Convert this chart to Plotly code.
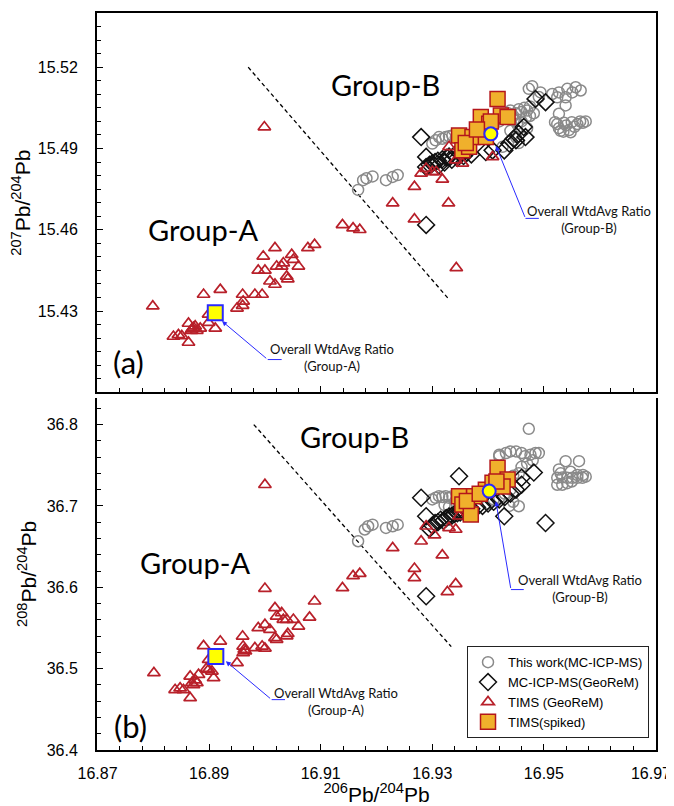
import plotly.graph_objects as go

# ---------------- tick values ----------------
x_ticks = [16.87, 16.89, 16.91, 16.93, 16.95, 16.97]
# last label padded with no-break spaces so it sits inside the page edge (as in the reference)
x_tick_labels = ["16.87", "16.89", "16.91", "16.93", "16.95", "16.97\u00a0\u00a0"]
y_ticks_a = [15.43, 15.46, 15.49, 15.52]
y_ticks_b = [36.4, 36.5, 36.6, 36.7, 36.8]

# ---------------- panel (a): 207Pb/204Pb ----------------
tw_x_a = [16.9167, 16.9176, 16.9182, 16.9193, 16.9217, 16.9229, 16.9238,
          16.9300, 16.9306, 16.9312, 16.9318, 16.9324, 16.9330, 16.9336, 16.9342,
          16.9385, 16.9392, 16.9398, 16.9410, 16.9420, 16.9428, 16.9436, 16.9440,
          16.9445, 16.9450, 16.9455, 16.9460, 16.9465, 16.9470, 16.9475, 16.9446,
          16.9452, 16.9460, 16.9468, 16.9475, 16.9482, 16.9455, 16.9426, 16.9450,
          16.9440, 16.9470,
          16.9473, 16.9479, 16.9491, 16.9494, 16.9515, 16.9524, 16.9527, 16.9539,
          16.9542, 16.9551, 16.9557, 16.9566, 16.9539, 16.9527,
          16.9520, 16.9524, 16.9527, 16.9530, 16.9536, 16.9540, 16.9545, 16.9550,
          16.9555, 16.9560, 16.9565, 16.9570, 16.9575, 16.9548, 16.9535]
tw_y_a = [15.4747, 15.4783, 15.4790, 15.4797, 15.4783, 15.4795, 15.4802,
          15.4918, 15.4930, 15.4942, 15.4936, 15.4942, 15.4945, 15.4948, 15.4940,
          15.4960, 15.4975, 15.4985, 15.4990, 15.5000, 15.5010, 15.5030, 15.5040,
          15.5020, 15.5030, 15.5045, 15.5035, 15.5050, 15.5040, 15.5055, 15.5005,
          15.4990, 15.5000, 15.5015, 15.5020, 15.5030, 15.4920, 15.4906, 15.4942,
          15.4965, 15.4975,
          15.5120, 15.5130, 15.5090, 15.5107, 15.5101, 15.5089, 15.5107, 15.5089,
          15.5120, 15.5107, 15.5126, 15.5114, 15.5059, 15.5028,
          15.4997, 15.4990, 15.4975, 15.4965, 15.4995, 15.4985, 15.4968, 15.4997,
          15.4980, 15.4990, 15.5000, 15.4995, 15.5000, 15.4960, 15.4962]

mc_x_a = [16.9280, 16.9289, 16.9289, 16.9289,
          16.9295, 16.9300, 16.9305, 16.9310, 16.9312, 16.9318, 16.9322, 16.9326,
          16.9330, 16.9335, 16.9340, 16.9345, 16.9350, 16.9356, 16.9362, 16.9370,
          16.9396, 16.9408, 16.9429, 16.9438, 16.9446, 16.9455, 16.9464,
          16.9485, 16.9503, 16.9467, 16.9450]
mc_y_a = [15.4942, 15.4869, 15.4832, 15.4618,
          15.4840, 15.4845, 15.4850, 15.4855, 15.4838, 15.4860, 15.4848, 15.4866,
          15.4870, 15.4858, 15.4876, 15.4865, 15.4880, 15.4872, 15.4885, 15.4878,
          15.4887, 15.4893, 15.4893, 15.4918, 15.4936, 15.4954, 15.4979,
          15.5083, 15.5071, 15.4942, 15.4930]

tims_x_a = [16.8799, 16.8999, 16.8836, 16.8845, 16.8851, 16.8863, 16.8863, 16.8869,
            16.8872, 16.8875, 16.8878, 16.8884, 16.8868, 16.8899, 16.8899, 16.8911,
            16.8890, 16.8920, 16.8950, 16.8960, 16.8961, 16.8960, 16.8982, 16.8995,
            16.8988, 16.9000, 16.8997, 16.9009, 16.9018, 16.9018, 16.9021, 16.9030,
            16.9033, 16.9039, 16.9041, 16.9048, 16.9051, 16.9060, 16.9077, 16.9089,
            16.9139, 16.9158, 16.9170, 16.9229, 16.9268, 16.9268, 16.9280, 16.9289,
            16.9307, 16.9318, 16.9329, 16.9343, 16.9330, 16.9342, 16.9354, 16.9408,
            16.9300]
tims_y_a = [15.4318, 15.4979, 15.4206, 15.4212, 15.4208, 15.4184, 15.4254, 15.4233,
            15.4239, 15.4244, 15.4228, 15.4236, 15.4228, 15.4288, 15.4257, 15.4236,
            15.4361, 15.4379, 15.4310, 15.4320, 15.4336, 15.4361, 15.4361, 15.4361,
            15.4450, 15.4450, 15.4502, 15.4410, 15.4398, 15.4533, 15.4465, 15.4465,
            15.4477, 15.4428, 15.4418, 15.4508, 15.4490, 15.4465, 15.4533, 15.4545,
            15.4618, 15.4606, 15.4600, 15.4698, 15.4759, 15.4639, 15.4808, 15.4826,
            15.4814, 15.4786, 15.4698, 15.4459, 15.4906, 15.4857, 15.4845, 15.4869,
            15.4814]

sp_x_a = [16.9348, 16.9354, 16.9366, 16.9372, 16.9360, 16.9387, 16.9402, 16.9396,
          16.9417, 16.9423, 16.9435, 16.9405, 16.9380]
sp_y_a = [15.4948, 15.4893, 15.4906, 15.4942, 15.4920, 15.5016, 15.4991, 15.4942,
          15.5083, 15.5022, 15.5016, 15.5000, 15.4970]

avgA_a = (16.8911, 15.4294)
avgB_a = (16.9405, 15.4954)
divider_x_a = [16.8970, 16.9330]
divider_y_a = [15.5200, 15.4343]

# ---------------- panel (b): 208Pb/204Pb ----------------
tw_x_b = [16.9167, 16.9179, 16.9185, 16.9193, 16.9217, 16.9229, 16.9238,
          16.9300, 16.9306, 16.9312, 16.9318, 16.9324, 16.9330, 16.9336, 16.9342,
          16.9330, 16.9322,
          16.9420, 16.9473, 16.9420, 16.9432, 16.9440, 16.9450, 16.9460, 16.9466,
          16.9476, 16.9485, 16.9491, 16.9480, 16.9470, 16.9460, 16.9455, 16.9445,
          16.9440, 16.9430, 16.9420, 16.9445, 16.9455, 16.9438, 16.9410, 16.9400,
          16.9527, 16.9539, 16.9563, 16.9524, 16.9533, 16.9542, 16.9551, 16.9560,
          16.9569, 16.9575, 16.9524, 16.9533, 16.9542, 16.9550, 16.9530, 16.9548,
          16.9560, 16.9570]
tw_y_b = [36.6566, 36.6710, 36.6750, 36.6770, 36.6730, 36.6750, 36.6770,
          36.7080, 36.7100, 36.7120, 36.7110, 36.7120, 36.7100, 36.7120, 36.7050,
          36.6990, 36.7010,
          36.7610, 36.7948, 36.7630, 36.7650, 36.7670, 36.7670, 36.7650, 36.7610,
          36.7630, 36.7650, 36.7650, 36.7560, 36.7520, 36.7480, 36.7400, 36.7370,
          36.7200, 36.7150, 36.7100, 36.7050, 36.6996, 36.7000, 36.7080, 36.7030,
          36.7448, 36.7550, 36.7550, 36.7346, 36.7350, 36.7346, 36.7346, 36.7346,
          36.7346, 36.7360, 36.7260, 36.7260, 36.7280, 36.7300, 36.7400, 36.7420,
          36.7380, 36.7380]

mc_x_b = [16.9280, 16.9348, 16.9289, 16.9289, 16.9429, 16.9503, 16.9482, 16.9460,
          16.9295, 16.9300, 16.9305, 16.9310, 16.9315, 16.9320, 16.9325, 16.9330,
          16.9335, 16.9340, 16.9345, 16.9350, 16.9355, 16.9362, 16.9370, 16.9380,
          16.9390, 16.9400, 16.9410, 16.9420, 16.9430, 16.9440, 16.9450, 16.9460]
mc_y_b = [36.7100, 36.7365, 36.6873, 36.5890, 36.6873, 36.6790, 36.7410, 36.7346,
          36.6720, 36.6760, 36.6790, 36.6800, 36.6830, 36.6820, 36.6850, 36.6870,
          36.6880, 36.6900, 36.6910, 36.6920, 36.6935, 36.6950, 36.6965, 36.6985,
          36.7000, 36.7030, 36.7050, 36.7080, 36.7110, 36.7150, 36.7200, 36.7260]

tims_x_b = [16.8801, 16.9000, 16.9000, 16.8890, 16.8920, 16.8839, 16.8848, 16.8854,
            16.8866, 16.8866, 16.8869, 16.8878, 16.8881, 16.8872, 16.8875, 16.8899,
            16.8905, 16.8908, 16.8899, 16.8895, 16.8950, 16.8960, 16.8961, 16.8961,
            16.8963, 16.8965, 16.8982, 16.8995, 16.9000, 16.8988, 16.9000, 16.9009,
            16.9018, 16.9021, 16.9030, 16.9033, 16.9039, 16.9051, 16.9018, 16.9021,
            16.9039, 16.9041, 16.9060, 16.9080, 16.9089, 16.9139, 16.9158, 16.9170,
            16.9229, 16.9268, 16.9268, 16.9280, 16.9289, 16.9304, 16.9318, 16.9327,
            16.9342, 16.9330, 16.9342, 16.9348]
tims_y_b = [36.4947, 36.7260, 36.5984, 36.5280, 36.5336, 36.4740, 36.4760, 36.4740,
            36.4640, 36.4905, 36.4824, 36.4824, 36.4926, 36.4800, 36.4860, 36.4988,
            36.4967, 36.4886, 36.5110, 36.5000, 36.5070, 36.5397, 36.5274, 36.5192,
            36.5234, 36.5215, 36.5255, 36.5274, 36.5250, 36.5500, 36.5540, 36.5480,
            36.5747, 36.5643, 36.5684, 36.5603, 36.5603, 36.5603, 36.5378, 36.5357,
            36.5400, 36.5430, 36.5520, 36.5630, 36.5828, 36.5992, 36.6140, 36.6168,
            36.6484, 36.6230, 36.6115, 36.6566, 36.6750, 36.6640, 36.6394, 36.5943,
            36.6042, 36.6730, 36.6710, 36.6873]

sp_x_b = [16.9417, 16.9435, 16.9348, 16.9354, 16.9369, 16.9375, 16.9396, 16.9408,
          16.9426, 16.9362, 16.9385, 16.9415]
sp_y_b = [36.7468, 36.7325, 36.7120, 36.7017, 36.6894, 36.7120, 36.7200, 36.7284,
          36.7240, 36.7060, 36.7150, 36.7300]

avgA_b = (16.8912, 36.5150)
avgB_b = (16.9402, 36.7182)
divider_x_b = [16.8980, 16.9334]
divider_y_b = [36.8000, 36.5270]

# ---------------- styling ----------------
ARIAL = "Liberation Sans, Arial, sans-serif"
CALIBRI = "Lato, Open Sans, sans-serif"
GREY = "#8a8a8a"
RED = "#b8202a"
BLUE = "#2a2aff"

styles = {
    "tw": dict(name="This work(MC-ICP-MS)", symbol="circle",
               marker=dict(size=11, color="rgba(0,0,0,0)", line=dict(color=GREY, width=1.5))),
    "mc": dict(name="MC-ICP-MS(GeoReM)", symbol="diamond",
               marker=dict(size=13, color="rgba(0,0,0,0)", line=dict(color="#111111", width=1.5))),
    "tims": dict(name="TIMS (GeoReM)", symbol="triangle-up",
                 marker=dict(size=11, color="rgba(0,0,0,0)", line=dict(color=RED, width=1.7))),
    "sp": dict(name="TIMS(spiked)", symbol="square",
               marker=dict(size=15, color="#f0b02c", line=dict(color="#b4161b", width=1.5))),
}

fig = go.Figure()

panels = [
    ("x", "y", tw_x_a, tw_y_a, mc_x_a, mc_y_a, tims_x_a, tims_y_a, sp_x_a, sp_y_a,
     avgA_a, avgB_a, divider_x_a, divider_y_a, False),
    ("x2", "y2", tw_x_b, tw_y_b, mc_x_b, mc_y_b, tims_x_b, tims_y_b, sp_x_b, sp_y_b,
     avgA_b, avgB_b, divider_x_b, divider_y_b, True),
]

for (xa, ya, twx, twy, mcx, mcy, tx, ty, sx, sy, avA, avB, dx, dy, show) in panels:
    fig.add_trace(go.Scatter(x=dx, y=dy, mode="lines", xaxis=xa, yaxis=ya,
                             line=dict(color="black", width=1.3, dash="4px,3px"),
                             showlegend=False, hoverinfo="skip"))
    for key, xs, ys, rank in (("tw", twx, twy, 1), ("mc", mcx, mcy, 2),
                              ("tims", tx, ty, 3), ("sp", sx, sy, 4)):
        st = styles[key]
        m = dict(st["marker"])
        m["symbol"] = st["symbol"]
        fig.add_trace(go.Scatter(x=xs, y=ys, mode="markers", name=st["name"],
                                 xaxis=xa, yaxis=ya, marker=m, showlegend=show,
                                 legendrank=rank))
    fig.add_trace(go.Scatter(x=[avA[0]], y=[avA[1]], mode="markers", xaxis=xa, yaxis=ya,
                             marker=dict(symbol="square", size=15, color="#ffff00",
                                         line=dict(color=BLUE, width=2)),
                             showlegend=False))
    fig.add_trace(go.Scatter(x=[avB[0]], y=[avB[1]], mode="markers", xaxis=xa, yaxis=ya,
                             marker=dict(symbol="circle", size=13, color="#ffff00",
                                         line=dict(color=BLUE, width=2)),
                             showlegend=False))

# ---------------- annotations ----------------
ann = []
shapes = []

def callout(xr, yr, tip, elbow, end_x, text_xy):
    ann.append(dict(xref=xr, yref=yr, axref=xr, ayref=yr, x=tip[0], y=tip[1],
                    ax=elbow[0], ay=elbow[1], text="", showarrow=True,
                    arrowhead=2, arrowsize=1, arrowwidth=1, arrowcolor=BLUE,
                    standoff=0, startstandoff=0))
    shapes.append(dict(type="line", xref=xr, yref=yr, x0=elbow[0], y0=elbow[1],
                       x1=end_x, y1=elbow[1], line=dict(color=BLUE, width=1)))
    ann.append(dict(xref=xr, yref=yr, x=text_xy[0], y=text_xy[1],
                    text="Overall WtdAvg Ratio<br>" + text_xy[2], showarrow=False,
                    align="center", font=dict(family=CALIBRI, size=13, color="#111")))

callout("x", "y", (16.8923, 15.4263), (16.9005, 15.4121), 16.9030, (16.9120, 15.4128, "(Group-A)"))
callout("x", "y", (16.9414, 15.4910), (16.9467, 15.4642), 16.9491, (16.9581, 15.4637, "(Group-B)"))
callout("x2", "y2", (16.8930, 36.5090), (16.9012, 36.4619), 16.9036, (16.9128, 36.4594, "(Group-A)"))
callout("x2", "y2", (16.9414, 36.7058), (16.9441, 36.5972), 16.9464, (16.9564, 36.5984, "(Group-B)"))

def label(xr, yr, x, y, text, size):
    ann.append(dict(xref=xr, yref=yr, x=x, y=y, text=text, showarrow=False,
                    font=dict(family=CALIBRI, size=size, color="black")))

label("x", "y", 16.8890, 15.4600, "Group-A", 29)
label("x", "y", 16.9216, 15.5137, "Group-B", 29)
label("x", "y", 16.8756, 15.4111, "(a)", 31)
label("x2", "y2", 16.8875, 36.6300, "Group-A", 29)
label("x2", "y2", 16.9161, 36.7857, "Group-B", 29)
label("x2", "y2", 16.8759, 36.4290, "(b)", 31)

axis_common = dict(showgrid=False, zeroline=False, showline=True, linecolor="black",
                   linewidth=2, ticks="inside", ticklen=6, tickwidth=1.3,
                   tickcolor="black", automargin=False,
                   tickfont=dict(family=ARIAL, size=16, color="black"))

X_RANGE = [16.8699, 16.9701]

# the page body adds an 8px offset; figure size and margins account for it
fig.update_layout(
    width=666, height=798,
    margin=dict(l=89, r=18, t=5, b=56),
    paper_bgcolor="white", plot_bgcolor="white",
    showlegend=True,
    xaxis=dict(axis_common, domain=[0, 1], range=X_RANGE, anchor="y",
               tickvals=x_ticks, showticklabels=False, mirror=True,
               minor=dict(dtick=0.004, tick0=16.87, ticks="inside", ticklen=4,
                          tickcolor="black")),
    yaxis=dict(axis_common, domain=[0.4853, 1], range=[15.40, 15.54], anchor="x",
               tickvals=y_ticks_a, tickformat=".2f", mirror=True, ticklabelstandoff=14,
               minor=dict(dtick=0.005, tick0=15.40, ticks="inside", ticklen=4,
                          tickcolor="black"),
               title=dict(text="<sup>207</sup>Pb/<sup>204</sup>Pb", standoff=4,
                          font=dict(family=ARIAL, size=21, color="black"))),
    xaxis2=dict(axis_common, domain=[0, 1], range=X_RANGE, anchor="y2",
                tickvals=x_ticks, ticktext=x_tick_labels, mirror=False,
                ticklabelstandoff=8, ticklabeloverflow="allow",
                minor=dict(dtick=0.004, tick0=16.87, ticks="inside", ticklen=4,
                           tickcolor="black"),
                title=dict(text="<sup>206</sup>Pb/<sup>204</sup>Pb", standoff=6,
                           font=dict(family=ARIAL, size=21, color="black"))),
    yaxis2=dict(axis_common, domain=[0, 0.478], range=[36.4, 36.833], anchor="x2",
                tickvals=y_ticks_b, tickformat=".1f", mirror=True, ticklabelstandoff=14,
                minor=dict(dtick=0.02, tick0=36.4, ticks="inside", ticklen=4,
                           tickcolor="black"),
                title=dict(text="<sup>208</sup>Pb/<sup>204</sup>Pb", standoff=4,
                           font=dict(family=ARIAL, size=21, color="black"))),
    legend=dict(x=0.9875, y=0.016, xanchor="right", yanchor="bottom",
                bgcolor="white", bordercolor="#222", borderwidth=1,
                font=dict(family=ARIAL, size=13, color="black"),
                itemwidth=30, tracegroupgap=0),
    annotations=ann,
    shapes=shapes,
)

fig.write_html("out.html")
